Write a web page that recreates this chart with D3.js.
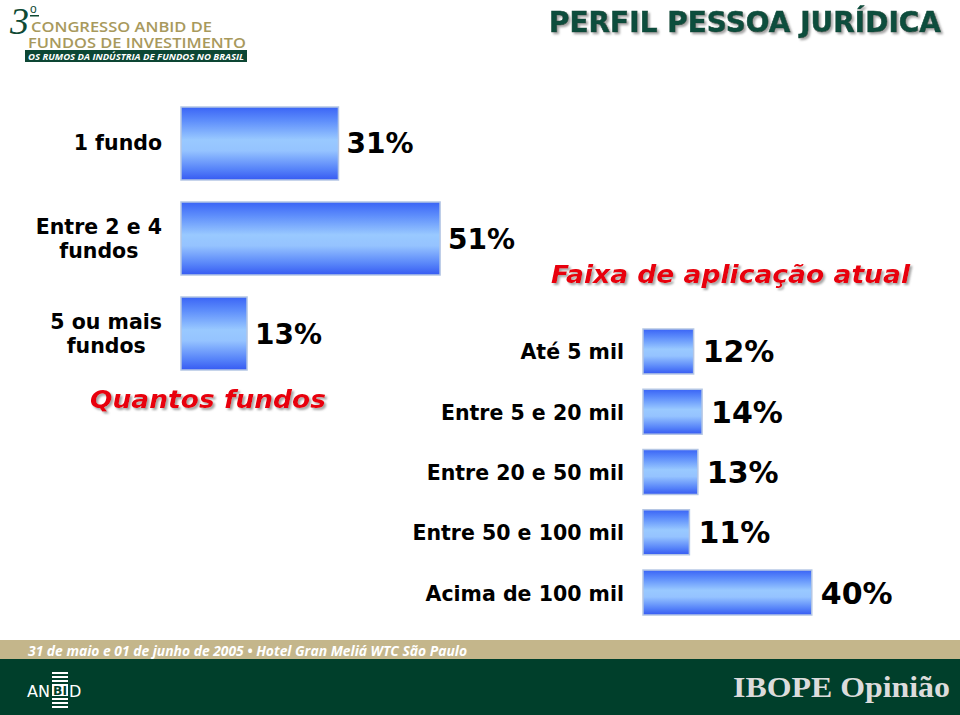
<!DOCTYPE html>
<html>
<head>
<meta charset="utf-8">
<script src="https://cdn.jsdelivr.net/npm/d3@7"></script>
<style>
  html, body { margin: 0; padding: 0; background: #ffffff; }
  svg { display: block; }
</style>
</head>
<body>
<svg id="chart" width="960" height="715"></svg>
<script>
// ---- data ----
const fundCategories = ["1 fundo", "Entre 2 e 4\nfundos", "5 ou mais\nfundos"];
const fundValues = [31, 51, 13];
const rangeCategories = ["Até 5 mil", "Entre 5 e 20 mil", "Entre 20 e 50 mil", "Entre 50 e 100 mil", "Acima de 100 mil"];
const rangeValues = [12, 14, 13, 11, 40];
const titleText = "PERFIL PESSOA JURÍDICA";
const fundTitle = "Quantos fundos";
const rangeTitle = "Faixa de aplicação atual";
const footerText = "31 de maio e 01 de junho de 2005 • Hotel Gran Meliá WTC São Paulo";

const svg = d3.select("#chart");
const defs = svg.append("defs");

const grad = defs.append("linearGradient").attr("id", "barGrad")
  .attr("x1", 0).attr("y1", 0).attr("x2", 0).attr("y2", 1);
[[0, "#3a64f6"], [0.18, "#5c8cfb"], [0.45, "#99c9ff"], [0.6, "#95c3ff"], [0.85, "#5784f9"], [1, "#365af2"]]
  .forEach(([o, c]) => grad.append("stop").attr("offset", o).attr("stop-color", c));

const sh = defs.append("filter").attr("id", "shadow").attr("x", "-5%").attr("y", "-20%").attr("width", "115%").attr("height", "150%");
sh.append("feDropShadow").attr("dx", 2).attr("dy", 2).attr("stdDeviation", 0.8).attr("flood-color", "#9a9a9a").attr("flood-opacity", 0.9);

const FONT = "'DejaVu Sans', Verdana, sans-serif";

// ---- header logo ----
const logo = svg.append("g");
logo.append("text").attr("x", 10).attr("y", 34).text("3")
  .attr("font-family", "'Liberation Serif', serif").attr("font-style", "italic")
  .attr("font-size", 38).attr("fill", "#0f4a35");
logo.append("text").attr("x", 30).attr("y", 13).text("o")
  .attr("font-family", "'Liberation Sans', sans-serif")
  .attr("font-size", 12).attr("fill", "#0f4a35");
logo.append("rect").attr("x", 30).attr("y", 15).attr("width", 9).attr("height", 1.5).attr("fill", "#0f4a35");
logo.append("text").attr("x", 31).attr("y", 32).text("CONGRESSO ANBID DE")
  .attr("font-family", "'Open Sans', sans-serif").attr("font-weight", 600)
  .attr("font-size", 15).attr("fill", "#a8995c").attr("textLength", 181).attr("lengthAdjust", "spacingAndGlyphs");
logo.append("text").attr("x", 28).attr("y", 47.5).text("FUNDOS DE INVESTIMENTO")
  .attr("font-family", "'Open Sans', sans-serif").attr("font-weight", 600)
  .attr("font-size", 15).attr("fill", "#a8995c").attr("textLength", 218).attr("lengthAdjust", "spacingAndGlyphs");
logo.append("rect").attr("x", 25).attr("y", 50).attr("width", 222).attr("height", 12).attr("fill", "#0d4634");
logo.append("text").attr("x", 28).attr("y", 59.5).text("OS RUMOS DA INDÚSTRIA DE FUNDOS NO BRASIL")
  .attr("font-family", "'Open Sans', sans-serif").attr("font-weight", 700).attr("font-style", "italic")
  .attr("font-size", 8.5).attr("fill", "#ffffff").attr("textLength", 216).attr("lengthAdjust", "spacingAndGlyphs");

// ---- title ----
svg.append("text").attr("x", 549).attr("y", 32).text(titleText)
  .attr("font-family", FONT).attr("font-weight", 700).attr("font-size", 28)
  .attr("fill", "#0b4d3c").attr("stroke", "#0b4d3c").attr("stroke-width", 0.6).attr("filter", "url(#shadow)")
  .attr("textLength", 392).attr("lengthAdjust", "spacingAndGlyphs");

// ---- chart 1: Quantos fundos ----
const x1 = d3.scaleLinear().domain([0, 100]).range([181, 689]);
const y1 = d3.scaleBand().domain(fundCategories).range([107, 370]).paddingInner(0.2316).paddingOuter(0);

const g1 = svg.append("g");
g1.selectAll("rect.bar").data(fundValues).join("rect").attr("class", "bar")
  .attr("x", x1(0)).attr("y", (d, i) => y1(fundCategories[i]))
  .attr("width", d => x1(d) - x1(0)).attr("height", y1.bandwidth())
  .attr("fill", "url(#barGrad)").attr("stroke", "#b4c6e4").attr("stroke-width", 1.5);

g1.selectAll("text.val").data(fundValues).join("text").attr("class", "val")
  .attr("x", d => x1(d) + 8).attr("y", (d, i) => y1(fundCategories[i]) + y1.bandwidth() / 2 + 10)
  .text(d => d + "%")
  .attr("font-family", FONT).attr("font-weight", 700).attr("font-size", 28).attr("fill", "#000");

fundCategories.forEach((c, i) => {
  const lines = c.split("\n");
  const cy = y1(c) + y1.bandwidth() / 2;
  const lh = 24;
  const t = g1.append("text").attr("font-family", FONT).attr("font-weight", 700)
    .attr("font-size", 20.5).attr("fill", "#000").attr("text-anchor", "middle");
  const spans = lines.map((l, k) => t.append("tspan").text(l)
    .attr("y", cy + 7 + (k - (lines.length - 1) / 2) * lh));
  const w = Math.max(...spans.map(s => s.node().getComputedTextLength()));
  spans.forEach(s => s.attr("x", 162 - w / 2));
});

svg.append("text").attr("x", 90).attr("y", 408).text(fundTitle)
  .attr("font-family", FONT).attr("font-weight", 700).attr("font-style", "italic")
  .attr("font-size", 25).attr("fill", "#e8000b").attr("filter", "url(#shadow)")
  .attr("textLength", 236).attr("lengthAdjust", "spacingAndGlyphs");

// ---- chart 2: Faixa de aplicação atual ----
svg.append("text").attr("x", 551).attr("y", 283).text(rangeTitle)
  .attr("font-family", FONT).attr("font-weight", 700).attr("font-style", "italic")
  .attr("font-size", 25).attr("fill", "#e8000b").attr("filter", "url(#shadow)")
  .attr("textLength", 359).attr("lengthAdjust", "spacingAndGlyphs");

const x2 = d3.scaleLinear().domain([0, 100]).range([643, 1065]);
const y2 = d3.scaleBand().domain(rangeCategories).range([329, 615]).paddingInner(0.254).paddingOuter(0);

const g2 = svg.append("g");
g2.selectAll("rect.bar").data(rangeValues).join("rect").attr("class", "bar")
  .attr("x", x2(0)).attr("y", (d, i) => y2(rangeCategories[i]))
  .attr("width", d => x2(d) - x2(0)).attr("height", y2.bandwidth())
  .attr("fill", "url(#barGrad)").attr("stroke", "#b4c6e4").attr("stroke-width", 1.5);

g2.selectAll("text.val").data(rangeValues).join("text").attr("class", "val")
  .attr("x", d => x2(d) + 9).attr("y", (d, i) => y2(rangeCategories[i]) + y2.bandwidth() / 2 + 11)
  .text(d => d + "%")
  .attr("font-family", FONT).attr("font-weight", 700).attr("font-size", 30).attr("fill", "#000");

g2.selectAll("text.cat").data(rangeCategories).join("text").attr("class", "cat")
  .attr("x", 624).attr("y", d => y2(d) + y2.bandwidth() / 2 + 8)
  .attr("text-anchor", "end").text(d => d)
  .attr("font-family", FONT).attr("font-weight", 700).attr("font-size", 20.5).attr("fill", "#000");

// ---- footer ----
svg.append("rect").attr("x", 0).attr("y", 640).attr("width", 960).attr("height", 20).attr("fill", "#c4b68b");
svg.append("rect").attr("x", 0).attr("y", 659).attr("width", 960).attr("height", 56).attr("fill", "#003f2b");
svg.append("text").attr("x", 28).attr("y", 656).text(footerText)
  .attr("font-family", "'Open Sans', sans-serif").attr("font-weight", 700).attr("font-style", "italic")
  .attr("font-size", 15).attr("fill", "#ffffff")
  .attr("textLength", 439).attr("lengthAdjust", "spacingAndGlyphs");

// ANBID logo
const an = svg.append("g");
an.append("text").attr("x", 27).attr("y", 697).text("AN")
  .attr("font-family", "'DejaVu Sans', sans-serif").attr("font-size", 16).attr("fill", "#ffffff")
  .attr("textLength", 23).attr("lengthAdjust", "spacingAndGlyphs");
[672, 676, 680, 698, 702, 706].forEach(yy => an.append("rect").attr("x", 52).attr("y", yy).attr("width", 16).attr("height", 2).attr("fill", "#ffffff"));
an.append("rect").attr("x", 52).attr("y", 684).attr("width", 16).attr("height", 12).attr("fill", "#ffffff");
an.append("text").attr("x", 53).attr("y", 695).text("BI")
  .attr("font-family", "'DejaVu Sans', sans-serif").attr("font-weight", 700).attr("font-size", 12).attr("fill", "#003f2b")
  .attr("textLength", 14).attr("lengthAdjust", "spacingAndGlyphs");
an.append("text").attr("x", 69).attr("y", 697).text("D")
  .attr("font-family", "'DejaVu Sans', sans-serif").attr("font-size", 16).attr("fill", "#ffffff");

svg.append("text").attr("x", 733).attr("y", 697).text("IBOPE Opinião")
  .attr("font-family", "'Liberation Serif', 'DejaVu Serif', serif").attr("font-weight", 700)
  .attr("font-size", 29).attr("fill", "#dcdcdc")
  .attr("textLength", 217).attr("lengthAdjust", "spacingAndGlyphs");
</script>
</body>
</html>
